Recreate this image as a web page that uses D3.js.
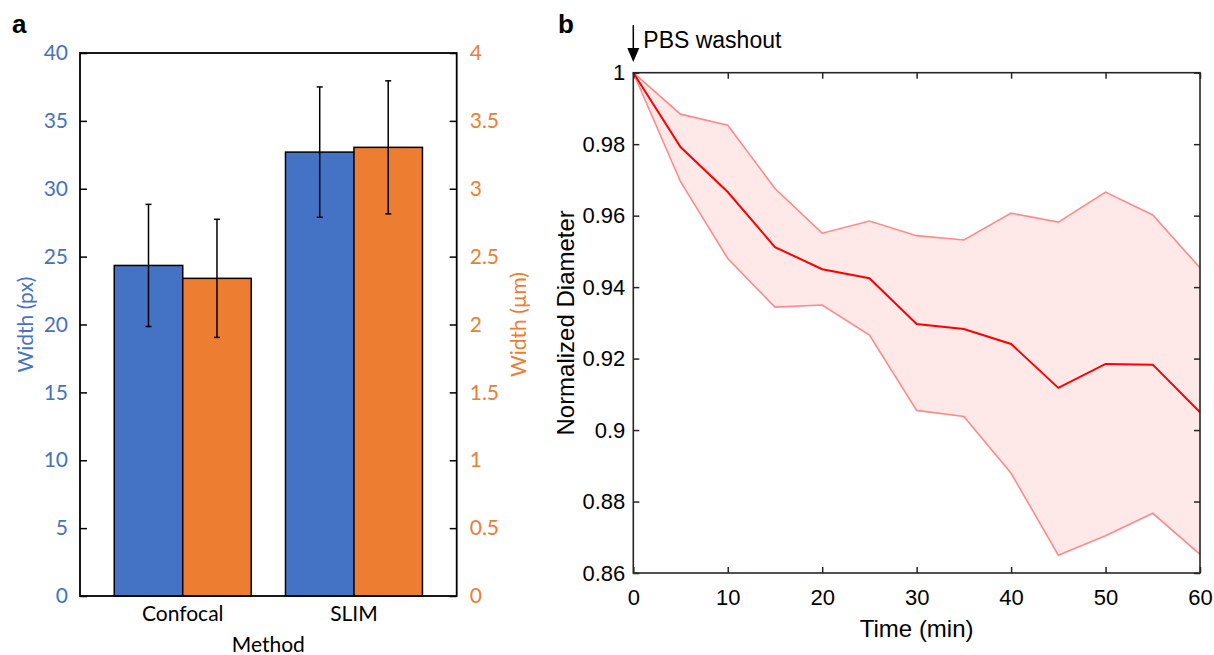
<!DOCTYPE html>
<html>
<head>
<meta charset="utf-8">
<script src="https://cdn.jsdelivr.net/npm/d3@7"></script>
<style>
  body { margin: 0; background: #fff; }
  svg { display: block; }
  .pa text { font-family: Lato, "Open Sans", sans-serif; }
  .pb text { font-family: "Liberation Sans", Arial, sans-serif; }
</style>
</head>
<body>
<div id="chart"></div>
<script>
// panel a: bar chart, two y axes
const methods = ['Confocal', 'SLIM'];
const widthPx = [24.35, 32.7];
const widthPxErr = [4.5, 4.8];
const widthUm = [2.34, 3.305];
const widthUmErr = [0.435, 0.49];
const pxTicks = [0, 5, 10, 15, 20, 25, 30, 35, 40];
const umTicks = [0, 0.5, 1, 1.5, 2, 2.5, 3, 3.5, 4];

// panel b: normalized diameter over time
const timeMin = [0, 5, 10, 15, 20, 25, 30, 35, 40, 45, 50, 55, 60];
const meanDia = [1, 0.9792, 0.9666, 0.9512, 0.945, 0.9425, 0.9297, 0.9283, 0.9241, 0.9118, 0.9185, 0.9183, 0.905];
const upperDia = [1, 0.9884, 0.9853, 0.9676, 0.9551, 0.9585, 0.9544, 0.9532, 0.9607, 0.9582, 0.9666, 0.9602, 0.9454];
const lowerDia = [1, 0.9695, 0.948, 0.9344, 0.935, 0.9266, 0.9055, 0.9038, 0.8879, 0.865, 0.8704, 0.8767, 0.8652];
const timeTicks = [0, 10, 20, 30, 40, 50, 60];
const diaTicks = [0.86, 0.88, 0.9, 0.92, 0.94, 0.96, 0.98, 1];

const blue = '#4472C4', orange = '#ED7D31';

const svg = d3.select('#chart').append('svg')
    .attr('width', 1214)
    .attr('height', 655);

// ---------- panel a ----------
const a = { left: 80, right: 456.7, top: 53, bottom: 596 };
const ga = svg.append('g').classed('pa', true);

const x0 = d3.scaleBand().domain(methods).range([a.left, a.right])
    .paddingInner(0.2).paddingOuter(0.2);
const x1 = d3.scaleBand().domain(['px', 'um']).range([0, x0.bandwidth()]);
const yL = d3.scaleLinear().domain([0, 40]).range([a.bottom, a.top]);
const yR = d3.scaleLinear().domain([0, 4]).range([a.bottom, a.top]);

const groups = ga.selectAll('g.grp').data(methods).join('g')
    .attr('class', 'grp')
    .attr('transform', d => 'translate(' + x0(d) + ',0)');

const barData = (d, i) => [
    { key: 'px', v: widthPx[i], e: widthPxErr[i], y: yL, c: blue },
    { key: 'um', v: widthUm[i], e: widthUmErr[i], y: yR, c: orange }
];

groups.each(function (d, i) {
    const g = d3.select(this);
    const bars = barData(d, i);
    g.selectAll('rect').data(bars).join('rect')
        .attr('x', b => x1(b.key))
        .attr('width', x1.bandwidth())
        .attr('y', b => b.y(b.v))
        .attr('height', b => a.bottom - b.y(b.v))
        .attr('fill', b => b.c)
        .attr('stroke', '#000')
        .attr('stroke-width', 1.5);
    // error bars
    const eb = g.selectAll('g.err').data(bars).join('g').attr('class', 'err');
    eb.append('line')
        .attr('x1', b => x1(b.key) + x1.bandwidth() / 2)
        .attr('x2', b => x1(b.key) + x1.bandwidth() / 2)
        .attr('y1', b => b.y(b.v + b.e))
        .attr('y2', b => b.y(b.v - b.e));
    eb.append('line')
        .attr('x1', b => x1(b.key) + x1.bandwidth() / 2 - 3)
        .attr('x2', b => x1(b.key) + x1.bandwidth() / 2 + 3)
        .attr('y1', b => b.y(b.v + b.e))
        .attr('y2', b => b.y(b.v + b.e));
    eb.append('line')
        .attr('x1', b => x1(b.key) + x1.bandwidth() / 2 - 3)
        .attr('x2', b => x1(b.key) + x1.bandwidth() / 2 + 3)
        .attr('y1', b => b.y(b.v - b.e))
        .attr('y2', b => b.y(b.v - b.e));
    eb.selectAll('line').attr('stroke', '#000').attr('stroke-width', 1.5);
});

// axes
const axL = ga.append('g')
    .attr('transform', 'translate(' + a.left + ',0)')
    .call(d3.axisLeft(yL).tickValues(pxTicks).tickSizeInner(-7).tickSizeOuter(0).tickPadding(12));
const axR = ga.append('g')
    .attr('transform', 'translate(' + a.right + ',0)')
    .call(d3.axisRight(yR).tickValues(umTicks).tickSizeInner(-7).tickSizeOuter(0).tickPadding(13)
        .tickFormat(d3.format('~g')));
const axB = ga.append('g')
    .attr('transform', 'translate(0,' + a.bottom + ')')
    .call(d3.axisBottom(x0).tickSize(0).tickPadding(10));
[axL, axR, axB].forEach(ax => {
    ax.select('.domain').remove();
    ax.selectAll('line').attr('stroke', '#000').attr('stroke-width', 1.5);
    ax.selectAll('text').attr('font-size', 21);
});
axL.selectAll('text').attr('fill', blue);
axR.selectAll('text').attr('fill', orange);
axB.selectAll('text').attr('fill', '#000');

ga.append('rect')
    .attr('x', a.left).attr('y', a.top)
    .attr('width', a.right - a.left).attr('height', a.bottom - a.top)
    .attr('fill', 'none').attr('stroke', '#000').attr('stroke-width', 1.8);

ga.append('text')
    .text('Method')
    .attr('x', (a.left + a.right) / 2).attr('y', 652)
    .attr('text-anchor', 'middle').attr('font-size', 21);
ga.append('text')
    .text('Width (px)')
    .attr('fill', blue).attr('font-size', 21).attr('text-anchor', 'middle')
    .attr('transform', 'translate(33,' + ((a.top + a.bottom) / 2) + ') rotate(-90)');
ga.append('text')
    .text('Width (\u00b5m)')
    .attr('fill', orange).attr('font-size', 21).attr('text-anchor', 'middle')
    .attr('transform', 'translate(526,' + ((a.top + a.bottom) / 2) + ') rotate(-90)');

svg.append('text').text('a')
    .attr('x', 12).attr('y', 33)
    .attr('font-family', '"Liberation Sans", Arial, sans-serif')
    .attr('font-weight', 'bold').attr('font-size', 26);

// ---------- panel b ----------
const b = { left: 633.3, right: 1200, top: 72.7, bottom: 573 };
const gb = svg.append('g').classed('pb', true);
const x = d3.scaleLinear().domain([0, 60]).range([b.left, b.right]);
const y = d3.scaleLinear().domain([0.86, 1]).range([b.bottom, b.top]);

const area = d3.area()
    .x((d, i) => x(timeMin[i]))
    .y0((d, i) => y(lowerDia[i]))
    .y1((d, i) => y(upperDia[i]));
gb.append('path')
    .datum(timeMin)
    .attr('d', area)
    .attr('fill', 'rgba(255,0,0,0.09)');

const line = d3.line().x((d, i) => x(timeMin[i])).y(d => y(d));
gb.append('path').datum(upperDia).attr('d', line)
    .attr('fill', 'none').attr('stroke', '#FF8A8A').attr('stroke-width', 1.6);
gb.append('path').datum(lowerDia).attr('d', line)
    .attr('fill', 'none').attr('stroke', '#FF8A8A').attr('stroke-width', 1.6);
gb.append('path').datum(meanDia).attr('d', line)
    .attr('fill', 'none').attr('stroke', '#FF0000').attr('stroke-width', 2);

const gx = gb.append('g')
    .attr('transform', 'translate(0,' + b.bottom + ')')
    .call(d3.axisBottom(x).tickValues(timeTicks).tickSizeInner(-6).tickSizeOuter(0).tickPadding(16));
const gy = gb.append('g')
    .attr('transform', 'translate(' + b.left + ',0)')
    .call(d3.axisLeft(y).tickValues(diaTicks).tickSizeInner(-6).tickSizeOuter(0).tickPadding(8)
        .tickFormat(d => String(+d.toFixed(2))));
const gxTop = gb.append('g')
    .attr('transform', 'translate(0,' + b.top + ')')
    .call(d3.axisTop(x).tickValues(timeTicks).tickSizeInner(-6).tickSizeOuter(0).tickFormat(''));
const gyR = gb.append('g')
    .attr('transform', 'translate(' + b.right + ',0)')
    .call(d3.axisRight(y).tickValues(diaTicks).tickSizeInner(-6).tickSizeOuter(0).tickFormat(''));
[gx, gy, gxTop, gyR].forEach(ax => {
    ax.select('.domain').remove();
    ax.selectAll('line').attr('stroke', '#262626').attr('stroke-width', 1.5);
    ax.selectAll('text').attr('font-size', 22).attr('fill', '#000');
});

gb.append('rect')
    .attr('x', b.left).attr('y', b.top)
    .attr('width', b.right - b.left).attr('height', b.bottom - b.top)
    .attr('fill', 'none').attr('stroke', '#262626').attr('stroke-width', 1.6);

gb.append('text')
    .text('Time (min)')
    .attr('x', (b.left + b.right) / 2).attr('y', 637)
    .attr('text-anchor', 'middle').attr('font-size', 24);
gb.append('text')
    .text('Normalized Diameter')
    .attr('text-anchor', 'middle').attr('font-size', 24)
    .attr('transform', 'translate(574,' + ((b.top + b.bottom) / 2) + ') rotate(-90)');

// PBS washout marker
gb.append('line')
    .attr('x1', x(0)).attr('x2', x(0))
    .attr('y1', 25).attr('y2', 50)
    .attr('stroke', '#000').attr('stroke-width', 1.5);
gb.append('path')
    .attr('d', 'M' + (x(0) - 6) + ',48 L' + (x(0) + 6) + ',48 L' + x(0) + ',62 Z')
    .attr('fill', '#000');
gb.append('text')
    .text('PBS washout')
    .attr('x', x(0) + 10).attr('y', 48)
    .attr('font-size', 23);

svg.append('text').text('b')
    .attr('x', 558).attr('y', 33)
    .attr('font-family', '"Liberation Sans", Arial, sans-serif')
    .attr('font-weight', 'bold').attr('font-size', 26);
</script>
</body>
</html>
